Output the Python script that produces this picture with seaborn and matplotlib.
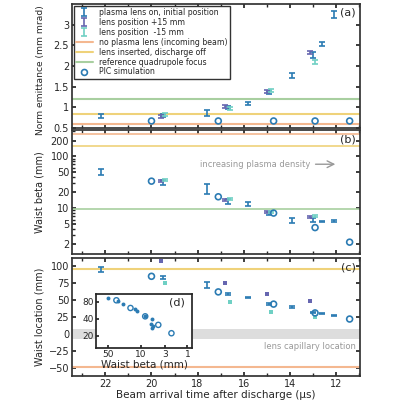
import matplotlib
matplotlib.use("Agg")
import matplotlib.pyplot as plt
import seaborn as sns
import numpy as np

sns.set_theme(style="ticks")
plt.rcParams['font.family'] = ['DejaVu Sans']

# measured data (initial lens position)
t_init = [22.2, 19.5, 17.6, 16.7, 15.8, 14.9, 13.9, 13.0, 12.6, 12.1]
emit_init = [0.78, 0.80, 0.86, 1.00, 1.10, 1.36, 1.77, 2.27, 2.53, 3.25]
emit_err = [0.05, 0.03, 0.08, 0.04, 0.04, 0.04, 0.07, 0.08, 0.04, 0.08]
beta_init = [50, 31, 24, 13.5, 12, 8, 5.7, 6, 5.5, 5.6]
beta_err = [6, 3, 5, 1.5, 1, 0.5, 0.6, 0.5, 0.2, 0.3]
loc_init = [95, 83, 72, 59, 54, 44, 40, 32, 30, 27]
loc_err = [4, 2, 4, 1, 1, 1, 1, 1, 1, 1]

# lens position +15 mm / -15 mm
t_p15 = [19.6, 16.8, 15.0, 13.1]
emit_p15 = [0.78, 1.02, 1.38, 2.33]
beta_p15 = [33, 14.5, 8.3, 6.8]
loc_p15 = [108, 75, 59, 49]
t_m15 = [19.4, 16.6, 14.8, 12.9]
emit_m15 = [0.82, 0.97, 1.40, 2.10]
beta_m15 = [35, 15, 8.5, 7.0]
loc_m15 = [75, 47, 33, 25]

# PIC simulation
t_pic = [20.0, 17.1, 14.7, 12.9, 11.4]
emit_pic = [0.67, 0.67, 0.67, 0.67, 0.67]
beta_pic = [33, 16.5, 8, 4.2, 2.2]
loc_pic = [85, 62, 44, 31, 22]

c_init = '#2b7bb3'
c_p15 = '#6666b0'
c_m15 = '#6fd0c4'
c_no = '#f4b890'
c_off = '#efd27a'
c_ref = '#a8cfa0'

fig = plt.figure(figsize=(4, 4), dpi=100)
ax1 = fig.add_axes([0.18, 0.68, 0.72, 0.31])
ax2 = fig.add_axes([0.18, 0.365, 0.72, 0.31])
ax3 = fig.add_axes([0.18, 0.06, 0.72, 0.295])

eb = dict(fmt='none', capsize=2, elinewidth=1.2, capthick=1.2)
pic_kw = dict(s=18, facecolors='none', edgecolors=c_init, linewidths=1.2, zorder=4)

# (a)
ax1.axhline(0.6, color=c_no, lw=1.5, label='no plasma lens (incoming beam)')
ax1.axhline(0.84, color=c_off, lw=1.5, label='lens inserted, discharge off')
ax1.axhline(1.2, color=c_ref, lw=1.5, label='reference quadrupole focus')
ax1.errorbar(t_init, emit_init, yerr=emit_err, color=c_init, **eb, label='plasma lens on, initial position')
ax1.errorbar(t_p15, emit_p15, yerr=0.04, color=c_p15, **eb, label='lens position +15 mm')
ax1.errorbar(t_m15, emit_m15, yerr=0.04, color=c_m15, **eb, label='lens position  -15 mm')
sns.scatterplot(x=t_pic, y=emit_pic, ax=ax1, marker='o', label='PIC simulation', **pic_kw)
want = ['plasma lens on, initial position', 'lens position +15 mm', 'lens position  -15 mm',
        'no plasma lens (incoming beam)', 'lens inserted, discharge off',
        'reference quadrupole focus', 'PIC simulation']
hs, ls = ax1.get_legend_handles_labels()
hmap = dict(zip(ls, hs))
ax1.legend([hmap[l] for l in want], want, loc='upper left', fontsize=5.6,
           frameon=True, edgecolor='#333333', fancybox=False, borderpad=0.3, labelspacing=0.12,
           handlelength=2.2, borderaxespad=0.2, framealpha=1)
ax1.set_ylim(0.5, 3.5)
ax1.set_yticks([0.5, 1, 1.5, 2, 2.5, 3])
ax1.set_yticklabels(['0.5', '1', '1.5', '2', '2.5', '3'])
ax1.set_ylabel('Norm emittance (mm mrad)', fontsize=6.6)
ax1.text(0.985, 0.93, '(a)', transform=ax1.transAxes, ha='right', va='center', fontsize=8)

# (b)
ax2.set_yscale('log')
ax2.axhline(270, color=c_no, lw=1.2)
ax2.axhline(160, color=c_off, lw=1.2)
ax2.axhline(9.5, color=c_ref, lw=1.2)
ax2.errorbar(t_init, beta_init, yerr=beta_err, color=c_init, **eb)
ax2.errorbar(t_p15, beta_p15, yerr=np.array(beta_p15) * 0.05, color=c_p15, **eb)
ax2.errorbar(t_m15, beta_m15, yerr=np.array(beta_m15) * 0.05, color=c_m15, **eb)
sns.scatterplot(x=t_pic, y=beta_pic, ax=ax2, marker='o', **pic_kw)
ax2.set_ylim(1.3, 320)
ax2.set_yticks([2, 5, 10, 20, 50, 100, 200])
ax2.set_yticklabels(['2', '5', '10', '20', '50', '100', '200'])
ax2.set_ylabel('Waist beta (mm)', fontsize=7)
ax2.text(0.985, 0.92, '(b)', transform=ax2.transAxes, ha='right', va='center', fontsize=8)
ax2.annotate('', xy=(11.9, 70), xytext=(13.0, 70),
             arrowprops=dict(arrowstyle='->', color='#999999', lw=1))
ax2.text(13.1, 70, 'increasing plasma density', ha='right', va='center', fontsize=6, color='#999999')

# (c)
ax3.axhspan(-8, 8, color='#dddddd', lw=0)
ax3.text(11.15, -12, 'lens capillary location', ha='right', va='top', fontsize=6, color='#999999')
ax3.axhline(-48, color=c_no, lw=1.5)
ax3.axhline(96, color=c_off, lw=1.5)
ax3.errorbar(t_init, loc_init, yerr=loc_err, color=c_init, **eb)
sns.scatterplot(x=t_p15, y=loc_p15, ax=ax3, marker='s', s=6, color=c_p15, linewidth=0)
sns.scatterplot(x=t_m15, y=loc_m15, ax=ax3, marker='s', s=6, color=c_m15, linewidth=0)
sns.scatterplot(x=t_pic, y=loc_pic, ax=ax3, marker='o', **pic_kw)
ax3.set_ylim(-62, 112)
ax3.set_yticks([-50, -25, 0, 25, 50, 75, 100])
ax3.set_ylabel('Waist location (mm)', fontsize=7)
ax3.set_xlabel('Beam arrival time after discharge (\u03bcs)', fontsize=7.5, labelpad=1)
ax3.text(0.985, 0.92, '(c)', transform=ax3.transAxes, ha='right', va='center', fontsize=8)

for ax in (ax1, ax2, ax3):
    ax.set_xlim(23.45, 10.95)
    ax.set_xticks([22, 20, 18, 16, 14, 12])
    ax.set_xticks(np.arange(23, 10.9, -1), minor=True)
    ax.tick_params(labelsize=7, direction='in', top=True, right=True, length=3, pad=2)
    ax.tick_params(which='minor', direction='in', top=True, length=2)
    ax.yaxis.set_label_coords(-0.095, 0.5)
    for s in ax.spines.values():
        s.set_color('#333333')
ax1.yaxis.set_label_coords(-0.095, 0.47)
ax1.tick_params(labelbottom=False)
ax2.tick_params(labelbottom=False)

# (d) inset
axd = fig.add_axes([0.24, 0.13, 0.24, 0.135])
axd.set_xscale('log')
axd.set_yscale('log')
sns.scatterplot(x=beta_init, y=loc_init, ax=axd, s=8, color=c_init, linewidth=0)
sns.scatterplot(x=beta_pic, y=loc_pic, ax=axd, marker='o', s=14, facecolors='none',
                edgecolors=c_init, linewidths=1)
axd.set_xlim(90, 0.8)
axd.set_ylim(12, 110)
axd.set_xticks([50, 10, 3, 1])
axd.set_xticklabels(['50', '10', '3', '1'])
axd.set_yticks([20, 40, 80])
axd.set_yticklabels(['20', '40', '80'])
axd.minorticks_off()
axd.tick_params(labelsize=6.5, direction='in', length=2, pad=1.5)
axd.set_xlabel('Waist beta (mm)', fontsize=7.5, labelpad=0)
axd.text(0.93, 0.85, '(d)', transform=axd.transAxes, ha='right', va='center', fontsize=8)

fig.savefig('out.png', dpi=100)
